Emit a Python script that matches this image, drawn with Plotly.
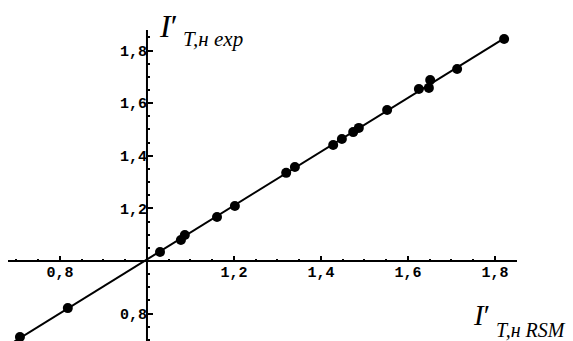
import numpy as np
import plotly.graph_objects as go

# data
x_rsm = [0.708, 0.818, 1.030, 1.078, 1.087, 1.161, 1.202, 1.320, 1.340, 1.428,
         1.448, 1.474, 1.487, 1.552, 1.625, 1.648, 1.651, 1.713, 1.821]
y_exp = [0.711, 0.821, 1.034, 1.080, 1.099, 1.167, 1.209, 1.335, 1.357, 1.441,
         1.464, 1.490, 1.506, 1.574, 1.654, 1.658, 1.688, 1.730, 1.844]
x_ticks = [0.8, 1.2, 1.4, 1.6, 1.8]
x_tick_labels = ["0,8", "1,2", "1,4", "1,6", "1,8"]
y_ticks = [0.8, 1.2, 1.4, 1.6, 1.8]
y_tick_labels = ["0,8", "1,2", "1,4", "1,6", "1,8"]
fit_x_range = [0.695, 1.821]

b, a = np.polyfit(x_rsm, y_exp, 1)
fit_x = np.array(fit_x_range)
fit_y = a + b * fit_x

x_min, x_max = 0.6805, 1.8506
y_min, y_max = 0.696, 1.878
cross_x, cross_y = 1.0, 1.0

W, H = 573, 341
ml, mr, mt, mb = 8, 56, 30, 0
pw, ph = W - ml - mr, H - mt - mb

fig = go.Figure()
fig.add_trace(go.Scatter(x=fit_x, y=fit_y, mode="lines",
                         line=dict(color="black", width=2), hoverinfo="skip"))
fig.add_trace(go.Scatter(x=x_rsm, y=y_exp, mode="markers",
                         marker=dict(color="black", size=10), cliponaxis=False))

tickfont = dict(family="Liberation Mono, DejaVu Sans Mono, monospace", size=15,
                color="black", weight="bold")
common = dict(showgrid=False, zeroline=False, showline=False,
              ticks="inside", ticklen=5, tickwidth=1.5, tickcolor="black",
              tickfont=tickfont, anchor="free", automargin=False, domain=[0, 1],
              minor=dict(dtick=0.05, ticks="inside", ticklen=2, tickcolor="black"))


def px_to_paper(px, py):
    return (px - ml) / pw, (H - mb - py) / ph


serif = "Liberation Serif, DejaVu Serif, serif"
titles = [
    ("<i>I</i>′", 157, 6, 32),
    ("<i>T,н exp</i>", 181, 25, 21),
    ("<i>I</i>′", 471, 297, 29),
    ("<i>T,н RSM</i>", 494, 317, 20),
]
annotations = []
for text, px, py, size in titles:
    ax, ay = px_to_paper(px, py)
    annotations.append(dict(text=text, x=ax, y=ay, xref="paper", yref="paper",
                            showarrow=False, xanchor="left", yanchor="top",
                            font=dict(family=serif, size=size, color="black")))

axis_lines = [
    dict(type="line", xref="paper", x0=0, x1=1, yref="y", y0=cross_y, y1=cross_y,
         line=dict(color="black", width=2), layer="below"),
    dict(type="line", xref="x", x0=cross_x, x1=cross_x, yref="paper", y0=0, y1=1,
         line=dict(color="black", width=2), layer="below"),
]

fig.update_layout(
    width=W, height=H,
    margin=dict(l=ml, r=mr, t=mt, b=mb, autoexpand=False),
    paper_bgcolor="white", plot_bgcolor="white",
    showlegend=False,
    xaxis=dict(range=[x_min, x_max], tickvals=x_ticks, ticktext=x_tick_labels,
               position=(cross_y - y_min) / (y_max - y_min), **common),
    yaxis=dict(range=[y_min, y_max], tickvals=y_ticks, ticktext=y_tick_labels,
               position=(cross_x - x_min) / (x_max - x_min), **common),
    annotations=annotations,
    shapes=axis_lines,
)

fig.write_html("out.html", config={"displayModeBar": False},
               post_script="document.body.style.margin='0';document.body.style.padding='0';")
